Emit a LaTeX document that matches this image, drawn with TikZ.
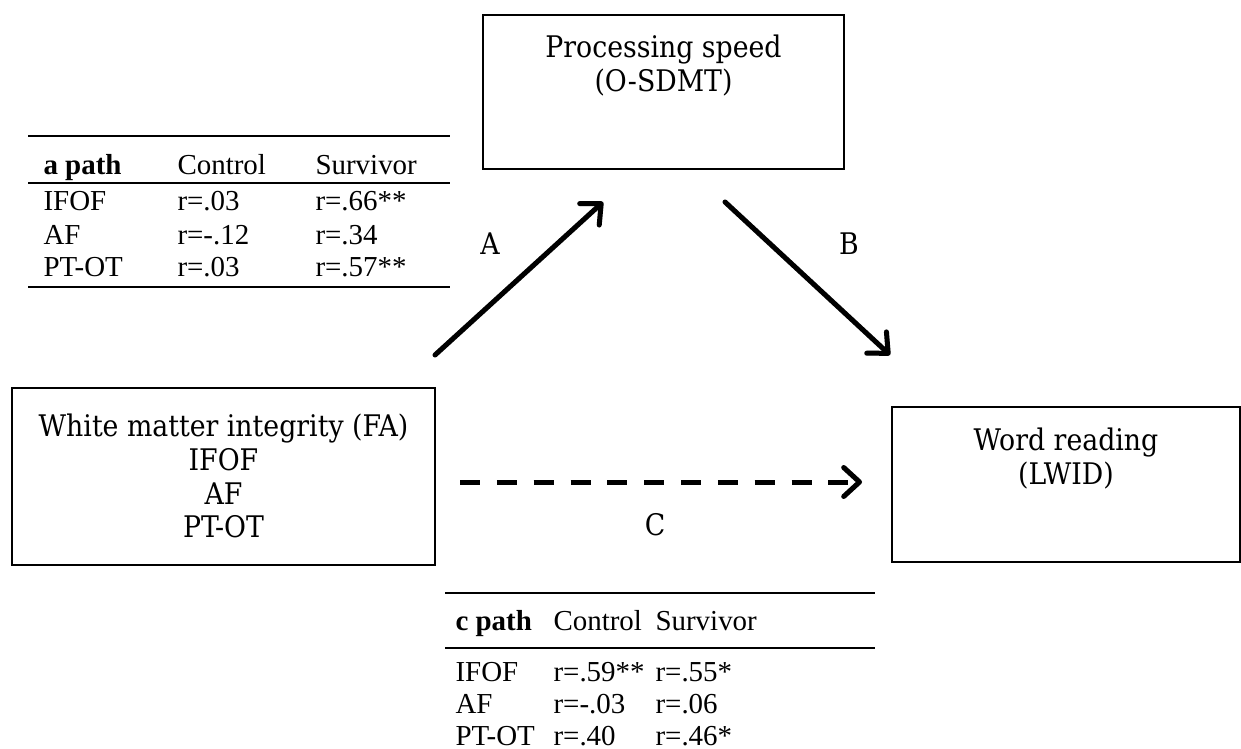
\documentclass[tikz,border=0pt]{standalone}
\usepackage{fontspec}
\setmainfont{Liberation Serif}
\newfontfamily\boxfont{DejaVu Serif Condensed}
\usetikzlibrary{arrows.meta}

\begin{document}
\begin{tikzpicture}[x=0.38pt, y=-0.38pt, every node/.style={inner sep=0pt},
  varbox/.style={draw, line width=0.75pt},
  boxtext/.style={align=center, anchor=north, font=\boxfont\fontsize{11.3}{12.9}\selectfont},
  pathlbl/.style={anchor=base, font=\boxfont\fontsize{11.3}{12.9}\selectfont},
  cell/.style={anchor=base west, font=\fontsize{11}{12.5}\selectfont},
  pathline/.style={line width=1.9pt, line cap=round, -{Straight Barb[length=6pt, width=11pt, line width=1.9pt, round]}},
  shadowline/.style={pathline, draw=black!18, xshift=0.6pt, yshift=-0.8pt}]
  \useasboundingbox (0,0) rectangle (1241,748);

  \node[varbox, minimum width=137.2pt, minimum height=58.5pt] (speed) at (663.5,92) {};
  \node[varbox, minimum width=160.7pt, minimum height=67.3pt] (wm) at (223.5,476.5) {};
  \node[varbox, minimum width=132.2pt, minimum height=58.9pt] (read) at (1066,484.5) {};
  \node[boxtext] (speedtxt) at (663.5,34) {Processing speed\\(O-SDMT)};
  \node[boxtext] (wmtxt) at (223.5,413) {White matter integrity (FA)\\IFOF\\AF\\PT-OT};
  \node[boxtext] (readtxt) at (1066,427) {Word reading\\(LWID)};

  \coordinate (aTail) at (435,355);
  \coordinate (aHead) at (603,202);
  \coordinate (bTail) at (725,202);
  \coordinate (bHead) at (890,355);
  \coordinate (cTail) at (460,482);
  \coordinate (cHead) at (862,482);
  \foreach \s in {shadowline, pathline}{
    \draw[\s] (aTail) -- (aHead);
    \draw[\s] (bTail) -- (bHead);
    \draw[\s, dash pattern=on 7.6pt off 6.4pt, line cap=butt] (cTail) -- (cHead);
  }
  \node[pathlbl] (labA) at (490,255) {A};
  \node[pathlbl] (labB) at (849,255) {B};
  \node[pathlbl] (labC) at (655,535) {C};

  \draw[line width=0.75pt] (28,136) -- (450,136);
  \draw[line width=0.55pt] (28,183) -- (450,183);
  \draw[line width=0.75pt] (28,287) -- (450,287);
  \node[cell] (ahead) at (43,175) {\textbf{a path}};
  \node[cell] (actl) at (177,175) {Control};
  \node[cell] (asurv) at (315,175) {Survivor};
  \foreach \y/\n/\c/\s [count=\i] in {211/IFOF/r=.03/r=.66**, 244/AF/r=-.12/r=.34, 277/PT-OT/r=.03/r=.57**}{
    \node[cell] (an\i) at (43,\y) {\n};
    \node[cell] (ac\i) at (177,\y) {\c};
    \node[cell] (as\i) at (315,\y) {\s};
  }

  \draw[line width=0.75pt] (445,593) -- (875,593);
  \draw[line width=0.65pt] (445,648) -- (875,648);
  \node[cell] (chead) at (455,630) {\textbf{c path}};
  \node[cell] (cctl) at (553,630) {Control};
  \node[cell] (csurv) at (655,630) {Survivor};
  \foreach \y/\n/\c/\s [count=\i] in {681/IFOF/r=.59**/r=.55*, 713/AF/r=-.03/r=.06, 745/PT-OT/r=.40/r=.46*}{
    \node[cell] (cn\i) at (455,\y) {\n};
    \node[cell] (cc\i) at (553,\y) {\c};
    \node[cell] (cs\i) at (655,\y) {\s};
  }
\end{tikzpicture}
\end{document}
